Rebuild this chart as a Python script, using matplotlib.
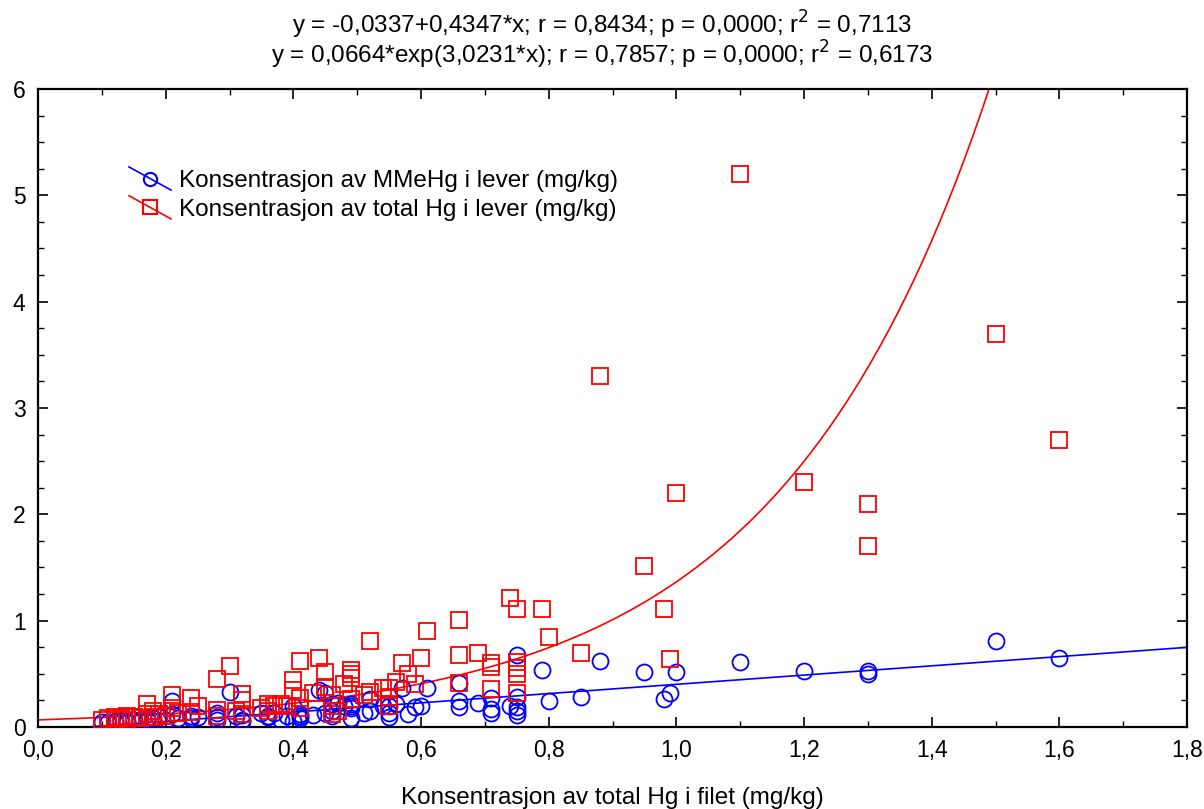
import matplotlib
matplotlib.use("Agg")
import matplotlib.pyplot as plt
import numpy as np
from matplotlib.legend_handler import HandlerLine2D
from matplotlib.ticker import MultipleLocator, FuncFormatter

plt.rcParams["font.family"] = ["Liberation Sans", "DejaVu Sans"]

# total Hg in filet (x), total Hg in liver (red), MMeHg in liver (blue)
hg_filet = [
    0.10, 0.11, 0.12, 0.12, 0.13, 0.14, 0.14, 0.15, 0.16, 0.17, 0.17, 0.18,
    0.18, 0.19, 0.20, 0.21, 0.21, 0.22, 0.24, 0.24, 0.25, 0.28, 0.28, 0.28,
    0.30, 0.31, 0.32, 0.32, 0.32, 0.35, 0.36, 0.36, 0.37, 0.38, 0.39, 0.40,
    0.40, 0.41, 0.41, 0.41, 0.43, 0.44, 0.45, 0.45, 0.46, 0.46, 0.46, 0.47,
    0.48, 0.49, 0.49, 0.49, 0.49, 0.51, 0.52, 0.52, 0.54, 0.55, 0.55, 0.55,
    0.56, 0.57, 0.58, 0.59, 0.60, 0.61, 0.66, 0.66, 0.66, 0.69, 0.71, 0.71,
    0.71, 0.74, 0.75, 0.75, 0.75, 0.75, 0.75, 0.79, 0.80, 0.85, 0.88, 0.95,
    0.98, 0.99, 1.00, 1.10, 1.20, 1.30, 1.30, 1.50, 1.60,
]
hg_lever = [
    0.07, 0.08, 0.07, 0.09, 0.08, 0.10, 0.07, 0.09, 0.08, 0.22, 0.12, 0.15,
    0.09, 0.12, 0.10, 0.30, 0.18, 0.13, 0.27, 0.14, 0.20, 0.45, 0.16, 0.10,
    0.57, 0.15, 0.31, 0.25, 0.12, 0.18, 0.22, 0.15, 0.20, 0.22, 0.20, 0.44,
    0.35, 0.62, 0.27, 0.18, 0.32, 0.65, 0.52, 0.38, 0.30, 0.20, 0.12, 0.15,
    0.40, 0.54, 0.50, 0.46, 0.26, 0.30, 0.81, 0.33, 0.37, 0.37, 0.28, 0.20,
    0.42, 0.60, 0.50, 0.40, 0.65, 0.90, 1.01, 0.68, 0.41, 0.70, 0.60, 0.56,
    0.36, 1.21, 1.11, 0.61, 0.55, 0.50, 0.32, 1.11, 0.85, 0.70, 3.30, 1.51,
    1.11, 0.64, 2.20, 5.20, 2.30, 2.10, 1.70, 3.70, 2.70,
]
mmehg_lever = [
    0.05, 0.05, 0.06, 0.05, 0.06, 0.05, 0.06, 0.07, 0.06, 0.07, 0.08, 0.08,
    0.06, 0.09, 0.07, 0.24, 0.12, 0.08, 0.10, 0.08, 0.09, 0.13, 0.09, 0.07,
    0.33, 0.10, 0.11, 0.07, 0.06, 0.13, 0.10, 0.09, 0.13, 0.07, 0.10, 0.20,
    0.06, 0.10, 0.08, 0.12, 0.11, 0.35, 0.32, 0.13, 0.15, 0.22, 0.10, 0.23,
    0.20, 0.22, 0.18, 0.08, 0.20, 0.13, 0.26, 0.15, 0.20, 0.13, 0.09, 0.20,
    0.22, 0.37, 0.12, 0.19, 0.20, 0.37, 0.41, 0.24, 0.19, 0.23, 0.27, 0.17,
    0.13, 0.20, 0.68, 0.28, 0.19, 0.11, 0.15, 0.54, 0.24, 0.28, 0.62, 0.52,
    0.26, 0.32, 0.52, 0.61, 0.53, 0.53, 0.50, 0.81, 0.65,
]

# fitted models, coefficients as printed in the title
lin_a, lin_b = -0.0337, 0.4347
exp_a, exp_b = 0.0664, 3.0231

TXT = 17.5


class SlantedHandler(HandlerLine2D):
    """Legend handle with the line drawn diagonally through the marker."""

    def create_artists(self, legend, orig_handle, xdescent, ydescent,
                       width, height, fontsize, trans):
        artists = super().create_artists(legend, orig_handle, xdescent,
                                         ydescent, width, height, fontsize,
                                         trans)
        line = artists[0]
        xd = list(line.get_xdata())
        yd = list(line.get_ydata())
        c = yd[len(yd) // 2]
        n = len(xd)
        x0, x1 = xd[0], xd[-1]
        xs = [x0 + (x1 - x0) * i / (n - 1) for i in range(n)]
        ys = [c + 0.68 * height - 1.36 * height * i / (n - 1) for i in range(n)]
        line.set_data(xs, ys)
        return artists


fig = plt.figure(figsize=(12.04, 8.09), dpi=100)
ax = fig.add_axes([0.0316, 0.1014, 0.9543, 0.7886])

x = np.array(hg_filet)
ax.plot(x, mmehg_lever, "o", ms=11.5, mfc="none", mec="#0000ff", mew=1.3,
        zorder=3)
ax.plot(x, hg_lever, "s", ms=12, mfc="none", mec="#ff0000", mew=1.3,
        zorder=3)

xl = np.linspace(-lin_a / lin_b, 1.8, 50)
ax.plot(xl, lin_a + lin_b * xl, color="#0000ff", lw=1.2, zorder=2)
xe = np.linspace(0, 1.8, 400)
ax.plot(xe, exp_a * np.exp(exp_b * xe), color="#ff0000", lw=1.2, zorder=2)

h1, = ax.plot([], [], "o-", color="#0000ff", ms=9.5, mfc="none", mew=1.5,
              lw=1.2)
h2, = ax.plot([], [], "s-", color="#ff0000", ms=9.5, mfc="none", mew=1.5,
              lw=1.2)
ax.legend([h1, h2],
          ["Konsentrasjon av MMeHg i lever (mg/kg)",
           "Konsentrasjon av total Hg i lever (mg/kg)"],
          loc="upper left", bbox_to_anchor=(129 / 1204, 1 - 170 / 809),
          bbox_transform=fig.transFigure, frameon=False, borderpad=0,
          borderaxespad=0, fontsize=TXT, handlelength=1.73,
          handletextpad=0.33, labelspacing=0.28,
          handler_map={h1: SlantedHandler(), h2: SlantedHandler()})

ax.set_xlim(0, 1.8)
ax.set_ylim(0, 6)
ax.xaxis.set_major_locator(MultipleLocator(0.2))
ax.xaxis.set_minor_locator(MultipleLocator(0.1))
ax.yaxis.set_major_locator(MultipleLocator(1))
ax.yaxis.set_minor_locator(MultipleLocator(0.25))
ax.xaxis.set_major_formatter(FuncFormatter(lambda v, p: f"{v:.1f}".replace(".", ",")))
ax.yaxis.set_major_formatter(FuncFormatter(lambda v, p: f"{v:.0f}"))
ax.tick_params(which="both", direction="in", top=True, right=True,
               labelsize=16.5, color="black")
ax.tick_params(which="major", length=7, width=1.2, pad=9)
ax.tick_params(which="minor", length=4, width=1.0)
for s in ax.spines.values():
    s.set_linewidth(1.6)

ax.set_xlabel("Konsentrasjon av total Hg i filet (mg/kg)", fontsize=TXT,
              labelpad=18)
fig.text(0.5, 1 - 25 / 809,
         "y = -0,0337+0,4347*x; r = 0,8434; p = 0,0000; r$^2$ = 0,7113",
         ha="center", va="center", fontsize=TXT)
fig.text(0.5, 1 - 55 / 809,
         "y = 0,0664*exp(3,0231*x); r = 0,7857; p = 0,0000; r$^2$ = 0,6173",
         ha="center", va="center", fontsize=TXT)

fig.savefig("out.png", dpi=100)
